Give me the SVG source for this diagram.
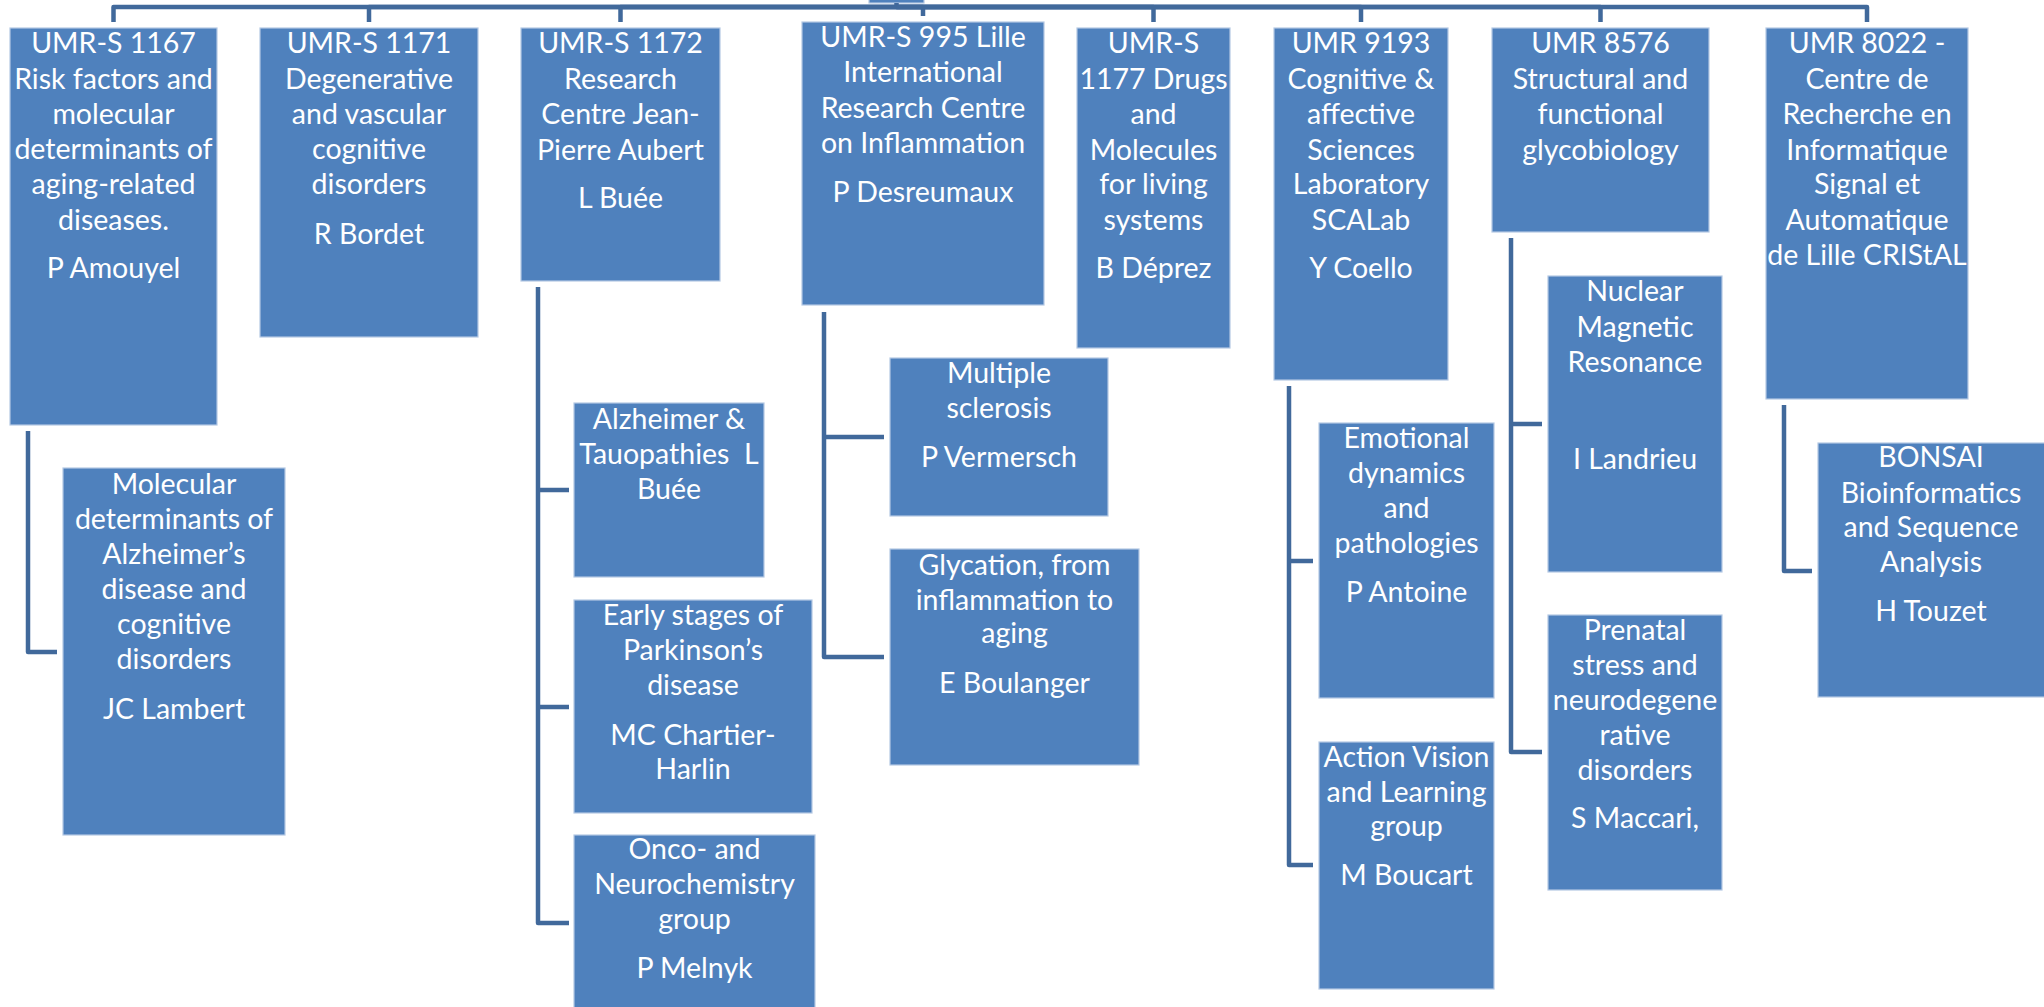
<svg xmlns="http://www.w3.org/2000/svg" width="2044" height="1007" viewBox="0 0 2044 1007">
  <style>
    .box { fill: #4F81BD; stroke: #B4C8E3; stroke-width: 1.2; }
    .lbl { fill: #FFFFFF; font-family: Lato, "Liberation Sans", "DejaVu Sans", sans-serif; font-size: 28.5px; text-anchor: middle; }
    .conn { fill: none; stroke: #41699B; stroke-width: 4.5; stroke-linejoin: round; }
  </style>
  <rect width="2044" height="1007" fill="#FFFFFF"/>

  <!-- root (mostly off the top edge) -->
  <g id="root">
    <rect class="box" x="869" y="-20" width="55" height="23"/>
  </g>

  <!-- connectors -->
  <g id="connectors">
    <path class="conn" d="M896.5,3 V7 H113.5 V22"/>
    <path class="conn" d="M896.5,7 H369 V22"/>
    <path class="conn" d="M896.5,7 H620.5 V22"/>
    <path class="conn" d="M896.5,7 H923 V16"/>
    <path class="conn" d="M896.5,7 H1153.5 V22"/>
    <path class="conn" d="M896.5,7 H1361 V22"/>
    <path class="conn" d="M896.5,7 H1600.5 V22"/>
    <path class="conn" d="M896.5,7 H1867 V22"/>
    <!-- sub-team branches -->
    <path class="conn" d="M28,431 V652 H57"/>
    <path class="conn" d="M538,287 V923 H569 M538,490 H569 M538,707 H569"/>
    <path class="conn" d="M824,312 V657 H884 M824,437 H884"/>
    <path class="conn" d="M1289,386 V865 H1313 M1289,561 H1313"/>
    <path class="conn" d="M1511,238 V752 H1542 M1511,424 H1542"/>
    <path class="conn" d="M1784,405 V571 H1812"/>
  </g>

  <g id="u1167">
    <rect class="box" x="10" y="28" width="207" height="397"/>
    <text class="lbl"><tspan x="113.5" y="53">UMR-S 1167</tspan><tspan x="113.5" y="89">Risk factors and</tspan><tspan x="113.5" y="124">molecular</tspan><tspan x="113.5" y="159">determinants of</tspan><tspan x="113.5" y="194">aging-related</tspan><tspan x="113.5" y="230">diseases.</tspan><tspan x="113.5" y="278">P Amouyel</tspan></text>
  </g>
  <g id="u1171">
    <rect class="box" x="260" y="28" width="218" height="309"/>
    <text class="lbl"><tspan x="369" y="53">UMR-S 1171</tspan><tspan x="369" y="89">Degenerative</tspan><tspan x="369" y="124">and vascular</tspan><tspan x="369" y="159">cognitive</tspan><tspan x="369" y="194">disorders</tspan><tspan x="369" y="244">R Bordet</tspan></text>
  </g>
  <g id="u1172">
    <rect class="box" x="521" y="28" width="199" height="253"/>
    <text class="lbl"><tspan x="620.5" y="53">UMR-S 1172</tspan><tspan x="620.5" y="89">Research</tspan><tspan x="620.5" y="124">Centre Jean-</tspan><tspan x="620.5" y="160">Pierre Aubert</tspan><tspan x="620.5" y="208">L Buée</tspan></text>
  </g>
  <g id="u995">
    <rect class="box" x="802" y="22" width="242" height="283"/>
    <text class="lbl"><tspan x="923" y="47">UMR-S 995 Lille</tspan><tspan x="923" y="82">International</tspan><tspan x="923" y="118">Research Centre</tspan><tspan x="923" y="153">on Inflammation</tspan><tspan x="923" y="202">P Desreumaux</tspan></text>
  </g>
  <g id="u1177">
    <rect class="box" x="1077" y="28" width="153" height="320"/>
    <text class="lbl"><tspan x="1153.5" y="53">UMR-S</tspan><tspan x="1153.5" y="89">1177 Drugs</tspan><tspan x="1153.5" y="124">and</tspan><tspan x="1153.5" y="160">Molecules</tspan><tspan x="1153.5" y="194">for living</tspan><tspan x="1153.5" y="230">systems</tspan><tspan x="1153.5" y="278">B Déprez</tspan></text>
  </g>
  <g id="u9193">
    <rect class="box" x="1274" y="28" width="174" height="352"/>
    <text class="lbl"><tspan x="1361" y="53">UMR 9193</tspan><tspan x="1361" y="89">Cognitive &amp;</tspan><tspan x="1361" y="124">affective</tspan><tspan x="1361" y="160">Sciences</tspan><tspan x="1361" y="194">Laboratory</tspan><tspan x="1361" y="230">SCALab</tspan><tspan x="1361" y="278">Y Coello</tspan></text>
  </g>
  <g id="u8576">
    <rect class="box" x="1492" y="28" width="217" height="204"/>
    <text class="lbl"><tspan x="1600.5" y="53">UMR 8576</tspan><tspan x="1600.5" y="89">Structural and</tspan><tspan x="1600.5" y="124">functional</tspan><tspan x="1600.5" y="160">glycobiology</tspan></text>
  </g>
  <g id="u8022">
    <rect class="box" x="1766" y="28" width="202" height="371"/>
    <text class="lbl"><tspan x="1867" y="53">UMR 8022 -</tspan><tspan x="1867" y="89">Centre de</tspan><tspan x="1867" y="124">Recherche en</tspan><tspan x="1867" y="160">Informatique</tspan><tspan x="1867" y="194">Signal et</tspan><tspan x="1867" y="230">Automatique</tspan><tspan x="1867" y="265">de Lille CRIStAL</tspan></text>
  </g>

  <g id="alz-molecular">
    <rect class="box" x="63" y="468" width="222" height="367"/>
    <text class="lbl"><tspan x="174" y="494">Molecular</tspan><tspan x="174" y="529">determinants of</tspan><tspan x="174" y="564">Alzheimer’s</tspan><tspan x="174" y="599">disease and</tspan><tspan x="174" y="634">cognitive</tspan><tspan x="174" y="669">disorders</tspan><tspan x="174" y="719">JC Lambert</tspan></text>
  </g>
  <g id="alz-tau">
    <rect class="box" x="574" y="403" width="190" height="174"/>
    <text class="lbl"><tspan x="669" y="429">Alzheimer &amp;</tspan><tspan x="669" y="464" xml:space="preserve">Tauopathies  L</tspan><tspan x="669" y="499">Buée</tspan></text>
  </g>
  <g id="parkinson">
    <rect class="box" x="574" y="600" width="238" height="213"/>
    <text class="lbl"><tspan x="693" y="625">Early stages of</tspan><tspan x="693" y="660">Parkinson’s</tspan><tspan x="693" y="695">disease</tspan><tspan x="693" y="745">MC Chartier-</tspan><tspan x="693" y="779">Harlin</tspan></text>
  </g>
  <g id="onco">
    <rect class="box" x="574" y="835" width="241" height="180"/>
    <text class="lbl"><tspan x="694.5" y="859">Onco- and</tspan><tspan x="694.5" y="894">Neurochemistry</tspan><tspan x="694.5" y="929">group</tspan><tspan x="694.5" y="978">P Melnyk</tspan></text>
  </g>
  <g id="ms">
    <rect class="box" x="890" y="358" width="218" height="158"/>
    <text class="lbl"><tspan x="999" y="383">Multiple</tspan><tspan x="999" y="418">sclerosis</tspan><tspan x="999" y="467">P Vermersch</tspan></text>
  </g>
  <g id="glycation">
    <rect class="box" x="890" y="549" width="249" height="216"/>
    <text class="lbl"><tspan x="1014.5" y="575">Glycation, from</tspan><tspan x="1014.5" y="610">inflammation to</tspan><tspan x="1014.5" y="643">aging</tspan><tspan x="1014.5" y="693">E Boulanger</tspan></text>
  </g>
  <g id="emotion">
    <rect class="box" x="1319" y="423" width="175" height="275"/>
    <text class="lbl"><tspan x="1406.5" y="448">Emotional</tspan><tspan x="1406.5" y="483">dynamics</tspan><tspan x="1406.5" y="518">and</tspan><tspan x="1406.5" y="553">pathologies</tspan><tspan x="1406.5" y="602">P Antoine</tspan></text>
  </g>
  <g id="action">
    <rect class="box" x="1319" y="742" width="175" height="247"/>
    <text class="lbl"><tspan x="1406.5" y="767">Action Vision</tspan><tspan x="1406.5" y="802">and Learning</tspan><tspan x="1406.5" y="836">group</tspan><tspan x="1406.5" y="885">M Boucart</tspan></text>
  </g>
  <g id="nmr">
    <rect class="box" x="1548" y="276" width="174" height="296"/>
    <text class="lbl"><tspan x="1635" y="301">Nuclear</tspan><tspan x="1635" y="337">Magnetic</tspan><tspan x="1635" y="372">Resonance</tspan><tspan x="1635" y="469">I Landrieu</tspan></text>
  </g>
  <g id="prenatal">
    <rect class="box" x="1548" y="615" width="174" height="275"/>
    <text class="lbl"><tspan x="1635" y="640">Prenatal</tspan><tspan x="1635" y="675">stress and</tspan><tspan x="1635" y="710">neurodegene</tspan><tspan x="1635" y="745">rative</tspan><tspan x="1635" y="780">disorders</tspan><tspan x="1635" y="828">S Maccari,</tspan></text>
  </g>
  <g id="bonsai">
    <rect class="box" x="1818" y="443" width="230" height="254"/>
    <text class="lbl"><tspan x="1931" y="467">BONSAI</tspan><tspan x="1931" y="503">Bioinformatics</tspan><tspan x="1931" y="537">and Sequence</tspan><tspan x="1931" y="572">Analysis</tspan><tspan x="1931" y="621">H Touzet</tspan></text>
  </g>
</svg>
